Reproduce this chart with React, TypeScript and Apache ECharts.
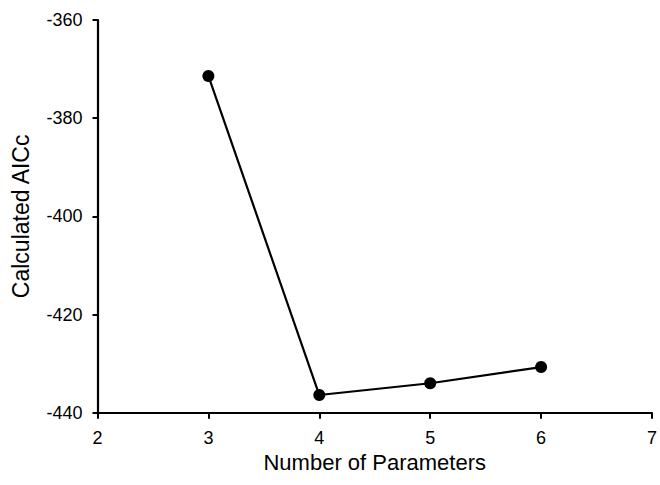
import React, { useEffect, useRef } from "react";
import * as echarts from "echarts";

const params = [3, 4, 5, 6];
const aicc = [-371.4, -436.4, -434.0, -430.7];

export default function App() {
  const ref = useRef<HTMLDivElement>(null);
  useEffect(() => {
    const chart = echarts.init(ref.current!, null, { renderer: "svg" });
    const font = "Liberation Sans, Arial, sans-serif";
    chart.setOption({
      animation: false,
      grid: { left: 97.5, right: 5, top: 20, bottom: 72.3 },
      xAxis: {
        type: "value",
        min: 2,
        max: 7,
        interval: 1,
        name: "Number of Parameters",
        nameLocation: "middle",
        nameGap: 36,
        nameTextStyle: { color: "#000", fontSize: 22, fontFamily: font },
        axisLine: { show: true, onZero: false, lineStyle: { color: "#000", width: 2.2 } },
        axisTick: { show: true, length: 6, lineStyle: { color: "#000", width: 2 } },
        axisLabel: { color: "#000", fontSize: 18, fontFamily: font, margin: 16 },
        splitLine: { show: false },
      },
      yAxis: {
        type: "value",
        min: -440,
        max: -360,
        interval: 20,
        name: "Calculated AICc",
        nameLocation: "middle",
        nameGap: 65,
        nameTextStyle: { color: "#000", fontSize: 23, fontFamily: font },
        axisLine: { show: true, onZero: false, lineStyle: { color: "#000", width: 2.2 } },
        axisTick: { show: true, length: 5, lineStyle: { color: "#000", width: 2 } },
        axisLabel: { color: "#000", fontSize: 18, fontFamily: font, margin: 15 },
        splitLine: { show: false },
      },
      series: [
        {
          type: "line",
          data: params.map((p, i) => [p, aicc[i]]),
          symbol: "circle",
          symbolSize: 12,
          lineStyle: { color: "#000", width: 2.2 },
          itemStyle: { color: "#000" },
        },
      ],
    });
    return () => chart.dispose();
  }, []);
  return (
    <div
      ref={ref}
      style={{ position: "absolute", left: 0, top: 0, width: 660, height: 485 }}
    />
  );
}
